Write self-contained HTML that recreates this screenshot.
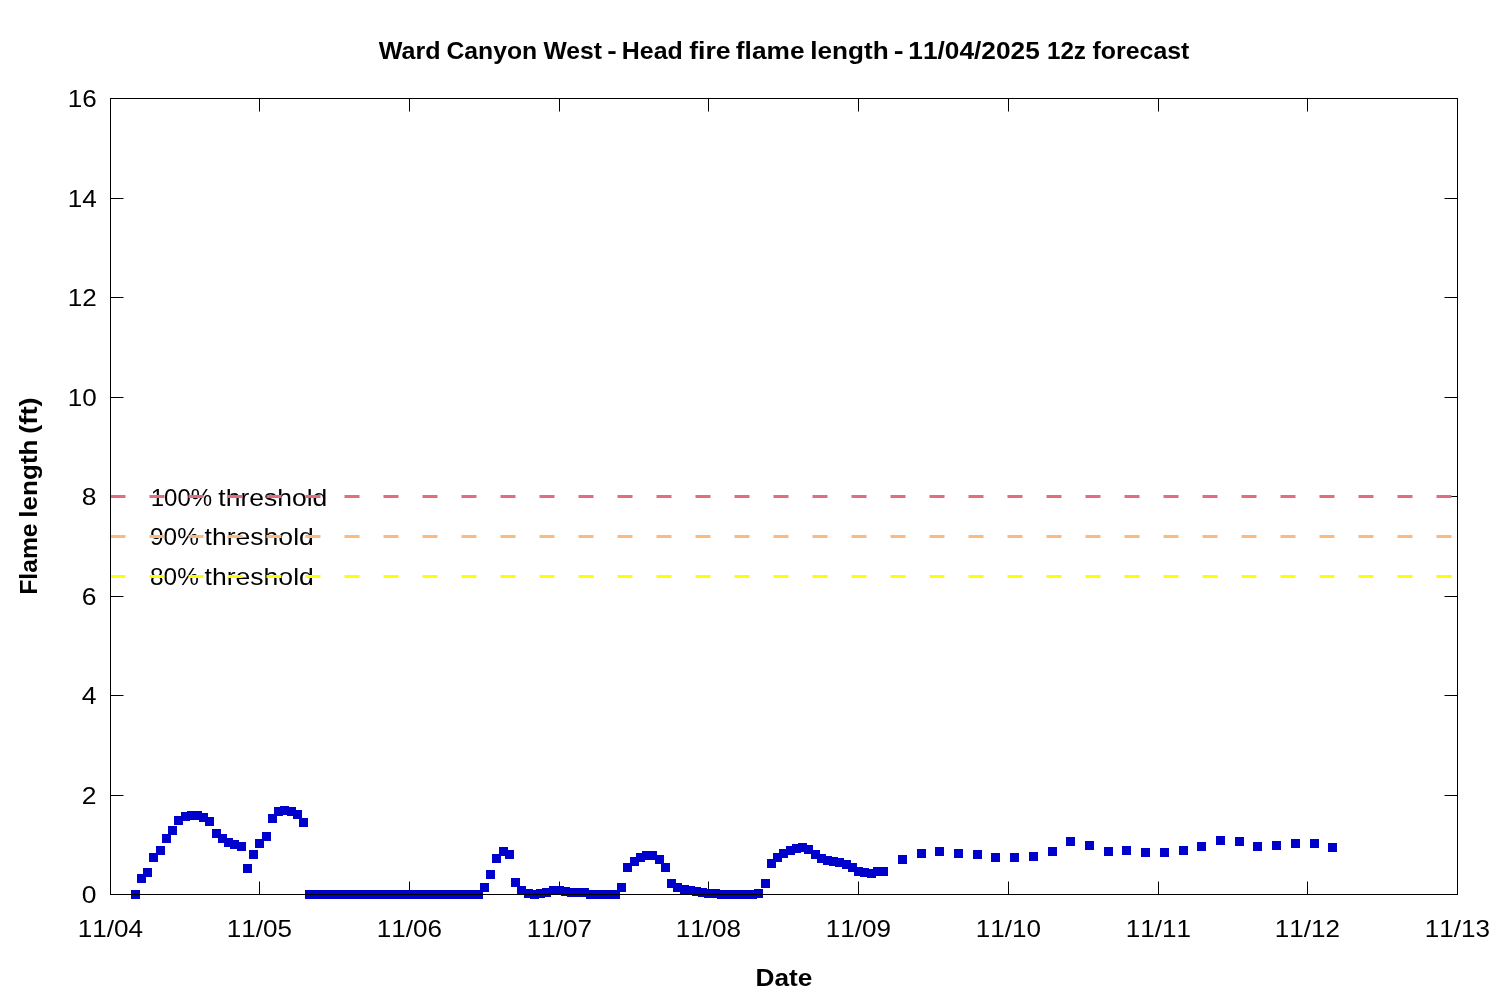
<!DOCTYPE html>
<html lang="en"><head><meta charset="utf-8"><title>Ward Canyon West - Head fire flame length</title>
<style>
html,body{margin:0;padding:0;background:#fff;}
body{width:1500px;height:1000px;overflow:hidden;}
svg{display:block;}
text{font-family:"Liberation Sans",sans-serif;fill:#000;}
.b{font-weight:bold;}
.nk{font-kerning:none;}
</style></head><body>
<svg width="1500" height="1000" viewBox="0 0 1500 1000">
<rect x="0" y="0" width="1500" height="1000" fill="#fff"/>
<text class="b" y="58.6" font-size="24.5"><tspan x="378.82" textLength="61.77" lengthAdjust="spacingAndGlyphs">Ward</tspan> <tspan x="446.5" textLength="90.71" lengthAdjust="spacingAndGlyphs">Canyon</tspan> <tspan x="543.41" textLength="58.47" lengthAdjust="spacingAndGlyphs">West</tspan> <tspan x="607.21" textLength="9.5" lengthAdjust="spacingAndGlyphs">-</tspan> <tspan x="621.88" textLength="60.89" lengthAdjust="spacingAndGlyphs">Head</tspan> <tspan x="689.18" textLength="41.52" lengthAdjust="spacingAndGlyphs">fire</tspan> <tspan x="735.87" textLength="68.66" lengthAdjust="spacingAndGlyphs">flame</tspan> <tspan x="810.26" textLength="78.4" lengthAdjust="spacingAndGlyphs">length</tspan> <tspan x="893.79" textLength="9.86" lengthAdjust="spacingAndGlyphs">-</tspan> <tspan class="nk" x="908.32" textLength="131.51" lengthAdjust="spacingAndGlyphs">11/04/2025</tspan> <tspan class="nk" x="1046.97" textLength="38.97" lengthAdjust="spacingAndGlyphs">12z</tspan> <tspan x="1092.56" textLength="96.85" lengthAdjust="spacingAndGlyphs">forecast</tspan></text>
<text class="b" x="755.53" y="985.7" font-size="24.5" textLength="56.85" lengthAdjust="spacingAndGlyphs">Date</text>
<text class="b" transform="translate(36.6 593.1) rotate(-90)" y="0" font-size="24.5"><tspan x="-1.65" textLength="71.28" lengthAdjust="spacingAndGlyphs">Flame</tspan> <tspan x="75.41" textLength="78.23" lengthAdjust="spacingAndGlyphs">length</tspan> <tspan x="159.27" textLength="36.49" lengthAdjust="spacingAndGlyphs">(ft)</tspan></text>
<g stroke="#000" stroke-width="1" fill="none">
<path d="M110 795.5H123.5M1458 795.5H1444.5"/>
<path d="M110 695.5H123.5M1458 695.5H1444.5"/>
<path d="M110 596.5H123.5M1458 596.5H1444.5"/>
<path d="M110 496.5H123.5M1458 496.5H1444.5"/>
<path d="M110 397.5H123.5M1458 397.5H1444.5"/>
<path d="M110 297.5H123.5M1458 297.5H1444.5"/>
<path d="M110 198.5H123.5M1458 198.5H1444.5"/>
<path d="M259.5 895V881.5M259.5 98V111.5"/>
<path d="M409.5 895V881.5M409.5 98V111.5"/>
<path d="M559.5 895V881.5M559.5 98V111.5"/>
<path d="M708.5 895V881.5M708.5 98V111.5"/>
<path d="M858.5 895V881.5M858.5 98V111.5"/>
<path d="M1008.5 895V881.5M1008.5 98V111.5"/>
<path d="M1158.5 895V881.5M1158.5 98V111.5"/>
<path d="M1307.5 895V881.5M1307.5 98V111.5"/>
</g>
<text class="nk" x="81.8" y="903.3" font-size="24.5" textLength="14.74" lengthAdjust="spacingAndGlyphs">0</text>
<text class="nk" x="81.8" y="804.3" font-size="24.5" textLength="14.74" lengthAdjust="spacingAndGlyphs">2</text>
<text class="nk" x="81.8" y="704.3" font-size="24.5" textLength="14.74" lengthAdjust="spacingAndGlyphs">4</text>
<text class="nk" x="81.8" y="605.3" font-size="24.5" textLength="14.74" lengthAdjust="spacingAndGlyphs">6</text>
<text class="nk" x="81.8" y="505.3" font-size="24.5" textLength="14.74" lengthAdjust="spacingAndGlyphs">8</text>
<text class="nk" x="67.75" y="406.3" font-size="24.5" textLength="28.99" lengthAdjust="spacingAndGlyphs">10</text>
<text class="nk" x="67.75" y="306.3" font-size="24.5" textLength="28.99" lengthAdjust="spacingAndGlyphs">12</text>
<text class="nk" x="67.75" y="207.3" font-size="24.5" textLength="28.99" lengthAdjust="spacingAndGlyphs">14</text>
<text class="nk" x="67.75" y="107.3" font-size="24.5" textLength="28.99" lengthAdjust="spacingAndGlyphs">16</text>
<text class="nk" x="77.70" y="936.8" font-size="24.5" textLength="65.19" lengthAdjust="spacingAndGlyphs">11/04</text>
<text class="nk" x="226.70" y="936.8" font-size="24.5" textLength="65.19" lengthAdjust="spacingAndGlyphs">11/05</text>
<text class="nk" x="376.70" y="936.8" font-size="24.5" textLength="65.19" lengthAdjust="spacingAndGlyphs">11/06</text>
<text class="nk" x="526.70" y="936.8" font-size="24.5" textLength="65.19" lengthAdjust="spacingAndGlyphs">11/07</text>
<text class="nk" x="675.70" y="936.8" font-size="24.5" textLength="65.19" lengthAdjust="spacingAndGlyphs">11/08</text>
<text class="nk" x="825.70" y="936.8" font-size="24.5" textLength="65.19" lengthAdjust="spacingAndGlyphs">11/09</text>
<text class="nk" x="975.70" y="936.8" font-size="24.5" textLength="65.19" lengthAdjust="spacingAndGlyphs">11/10</text>
<text class="nk" x="1125.70" y="936.8" font-size="24.5" textLength="65.19" lengthAdjust="spacingAndGlyphs">11/11</text>
<text class="nk" x="1274.70" y="936.8" font-size="24.5" textLength="65.19" lengthAdjust="spacingAndGlyphs">11/12</text>
<text class="nk" x="1424.70" y="936.8" font-size="24.5" textLength="65.19" lengthAdjust="spacingAndGlyphs">11/13</text>
<text y="505.8" font-size="24.5"><tspan x="150.75" textLength="61.47" lengthAdjust="spacingAndGlyphs">100%</tspan> <tspan x="218.37" textLength="108.96" lengthAdjust="spacingAndGlyphs">threshold</tspan></text>
<text y="545.3" font-size="24.5"><tspan x="150.1" textLength="48.67" lengthAdjust="spacingAndGlyphs">90%</tspan> <tspan x="204.64" textLength="109.17" lengthAdjust="spacingAndGlyphs">threshold</tspan></text>
<text y="585.0" font-size="24.5"><tspan x="150.1" textLength="48.67" lengthAdjust="spacingAndGlyphs">80%</tspan> <tspan x="204.64" textLength="109.17" lengthAdjust="spacingAndGlyphs">threshold</tspan></text>
<path d="M110.5 496.50H1457.5" stroke="#e06e80" stroke-width="3" stroke-dasharray="15 24" fill="none"/>
<path d="M110.5 536.50H1457.5" stroke="#fbbb80" stroke-width="3" stroke-dasharray="15 24" fill="none"/>
<path d="M110.5 576.50H1457.5" stroke="#ffff00" stroke-width="3" stroke-dasharray="15 24" fill="none"/>
<g fill="#0000cd" shape-rendering="crispEdges">
<rect x="131" y="890" width="9" height="9"/><rect x="137" y="874" width="9" height="9"/><rect x="143" y="868" width="9" height="9"/><rect x="149" y="853" width="9" height="9"/><rect x="156" y="846" width="9" height="9"/><rect x="162" y="834" width="9" height="9"/><rect x="168" y="826" width="9" height="9"/><rect x="174" y="816" width="9" height="9"/><rect x="181" y="812" width="9" height="9"/><rect x="187" y="811" width="9" height="9"/><rect x="193" y="811" width="9" height="9"/><rect x="199" y="813" width="9" height="9"/><rect x="205" y="817" width="9" height="9"/><rect x="212" y="829" width="9" height="9"/><rect x="218" y="834" width="9" height="9"/><rect x="224" y="838" width="9" height="9"/><rect x="230" y="840" width="9" height="9"/><rect x="237" y="842" width="9" height="9"/><rect x="243" y="864" width="9" height="9"/><rect x="249" y="850" width="9" height="9"/><rect x="255" y="839" width="9" height="9"/><rect x="262" y="832" width="9" height="9"/><rect x="268" y="814" width="9" height="9"/><rect x="274" y="807" width="9" height="9"/><rect x="280" y="806" width="9" height="9"/><rect x="287" y="807" width="9" height="9"/><rect x="293" y="810" width="9" height="9"/><rect x="299" y="818" width="9" height="9"/><rect x="305" y="890" width="9" height="9"/><rect x="312" y="890" width="9" height="9"/><rect x="318" y="890" width="9" height="9"/><rect x="324" y="890" width="9" height="9"/><rect x="330" y="890" width="9" height="9"/><rect x="336" y="890" width="9" height="9"/><rect x="343" y="890" width="9" height="9"/><rect x="349" y="890" width="9" height="9"/><rect x="355" y="890" width="9" height="9"/><rect x="361" y="890" width="9" height="9"/><rect x="368" y="890" width="9" height="9"/><rect x="374" y="890" width="9" height="9"/><rect x="380" y="890" width="9" height="9"/><rect x="386" y="890" width="9" height="9"/><rect x="393" y="890" width="9" height="9"/><rect x="399" y="890" width="9" height="9"/><rect x="405" y="890" width="9" height="9"/><rect x="411" y="890" width="9" height="9"/><rect x="418" y="890" width="9" height="9"/><rect x="424" y="890" width="9" height="9"/><rect x="430" y="890" width="9" height="9"/><rect x="436" y="890" width="9" height="9"/><rect x="443" y="890" width="9" height="9"/><rect x="449" y="890" width="9" height="9"/><rect x="455" y="890" width="9" height="9"/><rect x="461" y="890" width="9" height="9"/><rect x="467" y="890" width="9" height="9"/><rect x="474" y="890" width="9" height="9"/><rect x="480" y="883" width="9" height="9"/><rect x="486" y="870" width="9" height="9"/><rect x="492" y="854" width="9" height="9"/><rect x="499" y="847" width="9" height="9"/><rect x="505" y="850" width="9" height="9"/><rect x="511" y="878" width="9" height="9"/><rect x="517" y="886" width="9" height="9"/><rect x="524" y="889" width="9" height="9"/><rect x="530" y="890" width="9" height="9"/><rect x="536" y="889" width="9" height="9"/><rect x="542" y="888" width="9" height="9"/><rect x="549" y="886" width="9" height="9"/><rect x="555" y="886" width="9" height="9"/><rect x="561" y="887" width="9" height="9"/><rect x="567" y="888" width="9" height="9"/><rect x="573" y="888" width="9" height="9"/><rect x="580" y="888" width="9" height="9"/><rect x="586" y="890" width="9" height="9"/><rect x="592" y="890" width="9" height="9"/><rect x="598" y="890" width="9" height="9"/><rect x="605" y="890" width="9" height="9"/><rect x="611" y="890" width="9" height="9"/><rect x="617" y="883" width="9" height="9"/><rect x="623" y="863" width="9" height="9"/><rect x="630" y="857" width="9" height="9"/><rect x="636" y="853" width="9" height="9"/><rect x="642" y="851" width="9" height="9"/><rect x="648" y="851" width="9" height="9"/><rect x="655" y="855" width="9" height="9"/><rect x="661" y="863" width="9" height="9"/><rect x="667" y="879" width="9" height="9"/><rect x="673" y="883" width="9" height="9"/><rect x="680" y="885" width="9" height="9"/><rect x="686" y="886" width="9" height="9"/><rect x="692" y="887" width="9" height="9"/><rect x="698" y="888" width="9" height="9"/><rect x="704" y="889" width="9" height="9"/><rect x="711" y="889" width="9" height="9"/><rect x="717" y="890" width="9" height="9"/><rect x="723" y="890" width="9" height="9"/><rect x="729" y="890" width="9" height="9"/><rect x="736" y="890" width="9" height="9"/><rect x="742" y="890" width="9" height="9"/><rect x="748" y="890" width="9" height="9"/><rect x="754" y="889" width="9" height="9"/><rect x="761" y="879" width="9" height="9"/><rect x="767" y="859" width="9" height="9"/><rect x="773" y="853" width="9" height="9"/><rect x="779" y="849" width="9" height="9"/><rect x="786" y="846" width="9" height="9"/><rect x="792" y="844" width="9" height="9"/><rect x="798" y="843" width="9" height="9"/><rect x="804" y="845" width="9" height="9"/><rect x="811" y="850" width="9" height="9"/><rect x="817" y="854" width="9" height="9"/><rect x="823" y="856" width="9" height="9"/><rect x="829" y="857" width="9" height="9"/><rect x="835" y="858" width="9" height="9"/><rect x="842" y="860" width="9" height="9"/><rect x="848" y="863" width="9" height="9"/><rect x="854" y="867" width="9" height="9"/><rect x="860" y="868" width="9" height="9"/><rect x="867" y="869" width="9" height="9"/><rect x="873" y="867" width="9" height="9"/><rect x="879" y="867" width="9" height="9"/><rect x="898" y="855" width="9" height="9"/><rect x="917" y="849" width="9" height="9"/><rect x="935" y="847" width="9" height="9"/><rect x="954" y="849" width="9" height="9"/><rect x="973" y="850" width="9" height="9"/><rect x="991" y="853" width="9" height="9"/><rect x="1010" y="853" width="9" height="9"/><rect x="1029" y="852" width="9" height="9"/><rect x="1048" y="847" width="9" height="9"/><rect x="1066" y="837" width="9" height="9"/><rect x="1085" y="841" width="9" height="9"/><rect x="1104" y="847" width="9" height="9"/><rect x="1122" y="846" width="9" height="9"/><rect x="1141" y="848" width="9" height="9"/><rect x="1160" y="848" width="9" height="9"/><rect x="1179" y="846" width="9" height="9"/><rect x="1197" y="842" width="9" height="9"/><rect x="1216" y="836" width="9" height="9"/><rect x="1235" y="837" width="9" height="9"/><rect x="1253" y="842" width="9" height="9"/><rect x="1272" y="841" width="9" height="9"/><rect x="1291" y="839" width="9" height="9"/><rect x="1310" y="839" width="9" height="9"/><rect x="1328" y="843" width="9" height="9"/>
</g>
<rect x="110.5" y="98.5" width="1347" height="796" fill="none" stroke="#000" stroke-width="1" shape-rendering="crispEdges"/>
</svg>
</body></html>
